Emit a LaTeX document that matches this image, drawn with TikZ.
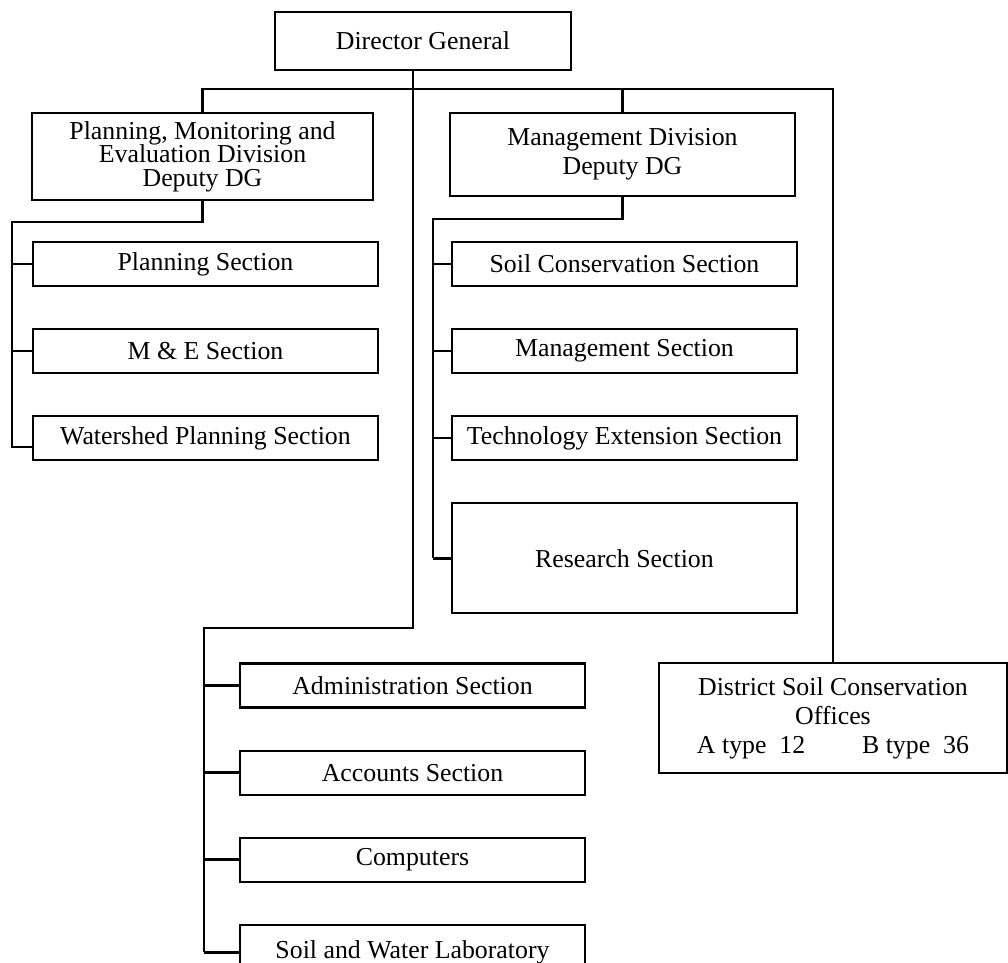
\documentclass[tikz,border=0pt]{standalone}
\usepackage{fontspec}
\setmainfont{Liberation Serif}
\usetikzlibrary{positioning}

\begin{document}
\begin{tikzpicture}[x=0.02cm,y=-0.02cm,node distance=0.82cm,
  unit/.style={draw,line width=1.2pt,minimum width=6.9cm,minimum height=0.88cm,
    align=center,inner sep=0pt,font=\fontsize{14.7}{16.5}\selectfont},
  link/.style={line width=1.4pt}]
 \useasboundingbox (0,0) rectangle (1008,963);
 \clip (0,0) rectangle (1008,963);

 \node[unit,minimum width=5.92cm,minimum height=1.16cm] (dg) at (423,41) {Director General};
 \node[unit,minimum width=6.82cm,minimum height=1.74cm,font=\fontsize{14.7}{13.4}\selectfont] (pme) at (202.5,156.5)
  {Planning, Monitoring and\\Evaluation Division\\Deputy DG};
 \node[unit,minimum height=1.66cm] (md) at (622.5,154.5) {Management Division\\Deputy DG};

 \node[unit] (ps) at (205.5,264) {Planning Section};
 \node[unit,below=of ps] (me) {M \& E Section};
 \node[unit,below=of me] (ws) {Watershed Planning Section};

 \node[unit] (sc) at (624.5,264) {Soil Conservation Section};
 \node[unit,below=of sc] (ms) {Management Section};
 \node[unit,below=of ms] (te) {Technology Extension Section};
 \node[unit,below=of te,minimum height=2.2cm] (rs) {Research Section};

 \node[unit] (ad) at (412.5,685.5) {Administration Section};
 \node[unit,below=of ad] (ac) {Accounts Section};
 \node[unit,below=of ac] (cp) {Computers};
 \node[unit,below=of cp,minimum height=1.1cm] (sw) {Soil and Water Laboratory};

 \node[unit,minimum width=6.96cm,minimum height=2.2cm] (dso) at (833,718)
  {District Soil Conservation\\Offices\\A type\ \ 12\hspace{2.2em}B type\ \ 36};

 \coordinate (hub) at (413,628);
 \coordinate (admfork) at (204,628);
 \coordinate (pmefork) at (12,222);
 \coordinate (mdfork) at (433,219);
 \coordinate (wsend) at (12,447);

 \draw[link] (pme.north) -- ++(0,-23) -| (dso.north);
 \draw[link] (md.north) -- ++(0,-23);
 \draw[link] (dg.south -| hub) -- (hub) -- (admfork) -- (admfork |- sw.west);
 \draw[link] (pme.south) |- (pmefork) -- (wsend) -- (wsend -| ws.west);
 \draw[link] (md.south) |- (mdfork) -- (mdfork |- rs.west);
 \foreach \n in {ps,me} \draw[link] (\n.west) -- (\n.west -| pmefork);
 \foreach \n in {sc,ms,te,rs} \draw[link] (\n.west) -- (\n.west -| mdfork);
 \foreach \n in {ad,ac,cp,sw} \draw[link] (\n.west) -- (\n.west -| admfork);
\end{tikzpicture}
\end{document}
